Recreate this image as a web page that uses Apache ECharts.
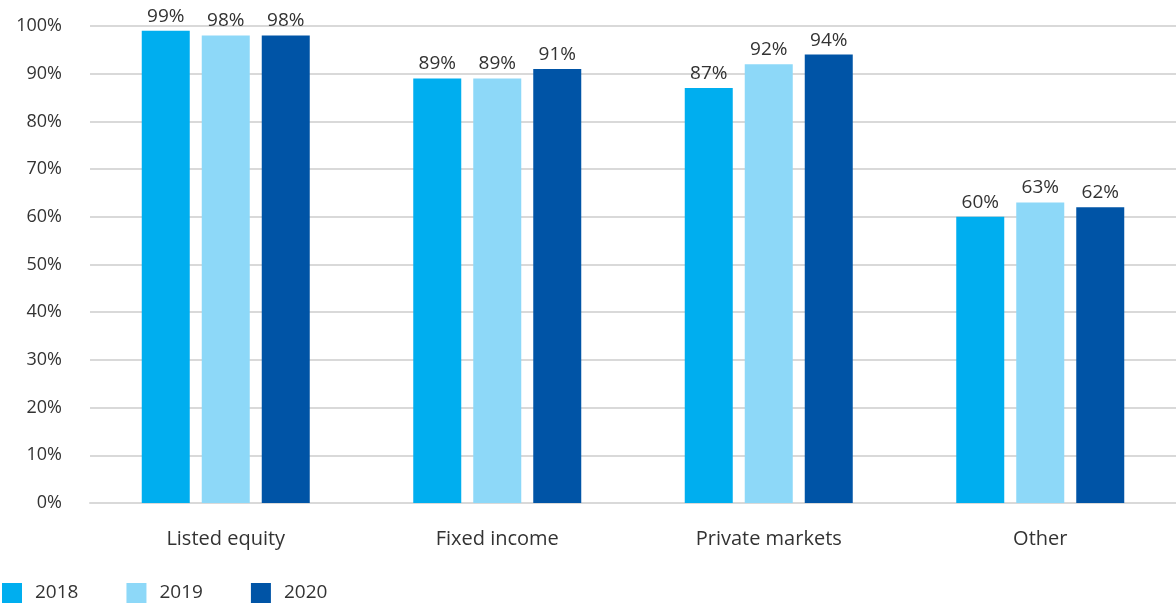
<!DOCTYPE html>
<html>
<head>
<meta charset="utf-8">
<script src="https://cdn.jsdelivr.net/npm/echarts@6/dist/echarts.min.js"></script>
<style>
  html, body { margin: 0; padding: 0; background: #fff; }
  #chart { width: 1176px; height: 608px; }
</style>
</head>
<body>
<div id="chart"></div>
<script>
// Share of assets covered, by asset class and year
const categories = ['Listed equity', 'Fixed income', 'Private markets', 'Other'];
const years = ['2018', '2019', '2020'];
const values2018 = [99, 89, 87, 60];
const values2019 = [98, 89, 92, 63];
const values2020 = [98, 91, 94, 62];
const yearColors = ['#00aeef', '#8dd8f8', '#0054a6'];

const FONT = '"Open Sans", sans-serif';

function barSeries(name, data, color) {
  return {
    name: name,
    type: 'bar',
    data: data,
    barWidth: 48,
    barGap: '25%',
    itemStyle: { color: color },
    label: {
      show: true,
      position: 'top',
      distance: 5,
      formatter: '{c}%',
      color: '#333',
      fontFamily: FONT,
      fontSize: 19
    }
  };
}

const chart = echarts.init(document.getElementById('chart'));
chart.setOption({
  animation: false,
  textStyle: { fontFamily: FONT },
  grid: { left: 90, right: 0, top: 26, bottom: 105 },
  legend: {
    left: 2,
    bottom: 5,
    padding: 0,
    itemWidth: 20,
    itemHeight: 20,
    itemGap: 48,
    icon: 'rect',
    textStyle: { color: '#333', fontSize: 19, fontFamily: FONT, padding: [0, 0, 0, 8] },
    data: years
  },
  xAxis: {
    type: 'category',
    data: categories,
    axisTick: { show: false },
    axisLine: { lineStyle: { color: '#d9d9d9', width: 2 } },
    axisLabel: { color: '#333', fontSize: 20, margin: 26, fontFamily: FONT }
  },
  yAxis: {
    type: 'value',
    min: 0,
    max: 100,
    interval: 10,
    axisLine: { show: false },
    axisTick: { show: false },
    splitLine: { lineStyle: { color: '#d9d9d9', width: 2 } },
    axisLabel: { formatter: '{value}%', color: '#333', fontSize: 18, margin: 28, fontFamily: FONT }
  },
  series: [
    barSeries(years[0], values2018, yearColors[0]),
    barSeries(years[1], values2019, yearColors[1]),
    barSeries(years[2], values2020, yearColors[2])
  ]
});
</script>
</body>
</html>
